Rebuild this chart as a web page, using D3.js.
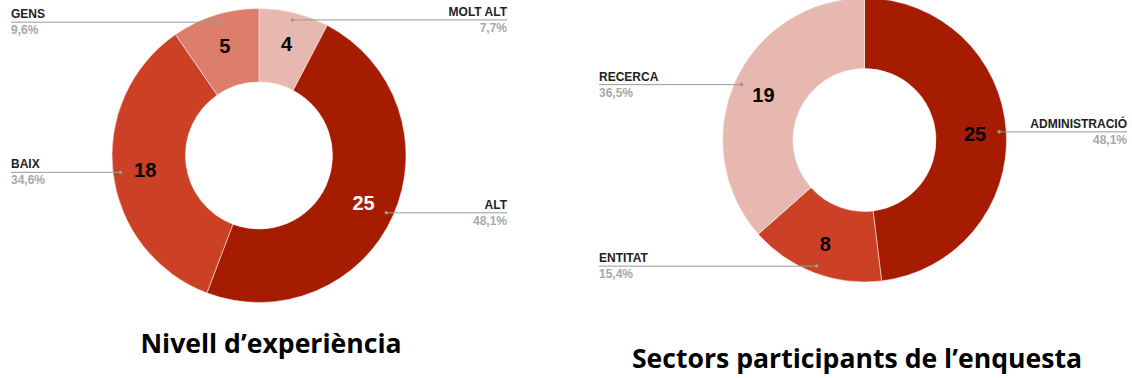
<!DOCTYPE html>
<html>
<head>
<meta charset="utf-8">
<script src="https://cdn.jsdelivr.net/npm/d3@7"></script>
<style>
  html, body { margin: 0; padding: 0; background: #fff; }
  svg { display: block; }
</style>
</head>
<body>
<svg id="chart" width="1132" height="378"></svg>
<script>
// Nivell d'experiència
const experienceCategories = ["MOLT ALT", "ALT", "BAIX", "GENS"];
const experienceValues = [4, 25, 18, 5];
const experienceTitle = "Nivell d\u2019experiència";

// Sectors participants
const sectorCategories = ["ADMINISTRACIÓ", "ENTITAT", "RECERCA"];
const sectorValues = [25, 8, 19];
const sectorTitle = "Sectors participants de l\u2019enquesta";

const svg = d3.select("#chart");

const fmtPct = v => (v * 100).toFixed(1).replace(".", ",") + "%";

function donut(opts) {
  const { categories, values, colors, valueColors, cx, cy, outer, inner,
          left, right, title, titleX, titleY } = opts;
  const total = d3.sum(values);
  const data = categories.map((c, i) => ({ name: c, value: values[i], i }));
  const pie = d3.pie().sort(null).value(d => d.value);
  const arcs = pie(data);

  const g = svg.append("g").attr("transform", `translate(${cx},${cy})`);
  const arc = d3.arc().innerRadius(inner).outerRadius(outer);
  const labelArc = d3.arc().innerRadius(outer * 0.78).outerRadius(outer * 0.78);
  const dotArc = d3.arc().innerRadius(outer * 0.95).outerRadius(outer * 0.95);

  g.selectAll("path.slice").data(arcs).join("path")
    .attr("class", "slice")
    .attr("d", arc)
    .attr("fill", d => colors[d.data.i])
    .attr("stroke", "#fff")
    .attr("stroke-width", 0.5);

  g.selectAll("text.val").data(arcs).join("text")
    .attr("class", "val")
    .attr("transform", d => `translate(${labelArc.centroid(d)})`)
    .attr("text-anchor", "middle")
    .attr("dy", "0.36em")
    .attr("font-family", "Arial, 'Liberation Sans', sans-serif")
    .attr("font-weight", "bold")
    .attr("font-size", 20)
    .attr("fill", d => valueColors[d.data.i])
    .text(d => d.data.value);

  // leader lines with category name and share
  arcs.forEach(d => {
    const [dx, dy] = dotArc.centroid(d);
    const mid = (d.startAngle + d.endAngle) / 2;
    const onLeft = mid > Math.PI;
    const endX = (onLeft ? left : right) - cx;
    g.append("line")
      .attr("x1", dx).attr("y1", dy).attr("x2", endX).attr("y2", dy)
      .attr("stroke", "#999").attr("stroke-width", 1);
    g.append("circle").attr("cx", dx).attr("cy", dy).attr("r", 1.8).attr("fill", "#999");
    const anchor = onLeft ? "start" : "end";
    g.append("text")
      .attr("x", endX).attr("y", dy - 4)
      .attr("text-anchor", anchor)
      .attr("font-family", "Arial, 'Liberation Sans', sans-serif")
      .attr("font-weight", "bold")
      .attr("font-size", 12)
      .attr("fill", "#222")
      .text(d.data.name);
    g.append("text")
      .attr("x", endX).attr("y", dy + 12)
      .attr("text-anchor", anchor)
      .attr("font-family", "Arial, 'Liberation Sans', sans-serif")
      .attr("font-weight", "bold")
      .attr("font-size", 12)
      .attr("fill", "#a8a8a8")
      .text(fmtPct(d.data.value / total));
  });

  svg.append("text")
    .attr("x", titleX).attr("y", titleY)
    .attr("text-anchor", "middle")
    .attr("font-family", "'Open Sans', 'Noto Sans', sans-serif")
    .attr("font-weight", 700)
    .attr("font-size", 26.6)
    .attr("fill", "#000")
    .text(title);
}

donut({
  categories: experienceCategories,
  values: experienceValues,
  colors: ["#e6b8af", "#a61c00", "#cc4125", "#dd7e6b"],
  valueColors: ["#000", "#fff", "#000", "#000"],
  cx: 259, cy: 155.5, outer: 147, inner: 73.5,
  left: 11, right: 507,
  title: experienceTitle, titleX: 271, titleY: 353
});

donut({
  categories: sectorCategories,
  values: sectorValues,
  colors: ["#a61c00", "#cc4125", "#e6b8af"],
  valueColors: ["#000", "#000", "#000"],
  cx: 864.5, cy: 140, outer: 142, inner: 71.5,
  left: 599, right: 1127,
  title: sectorTitle, titleX: 857, titleY: 368
});
</script>
</body>
</html>
